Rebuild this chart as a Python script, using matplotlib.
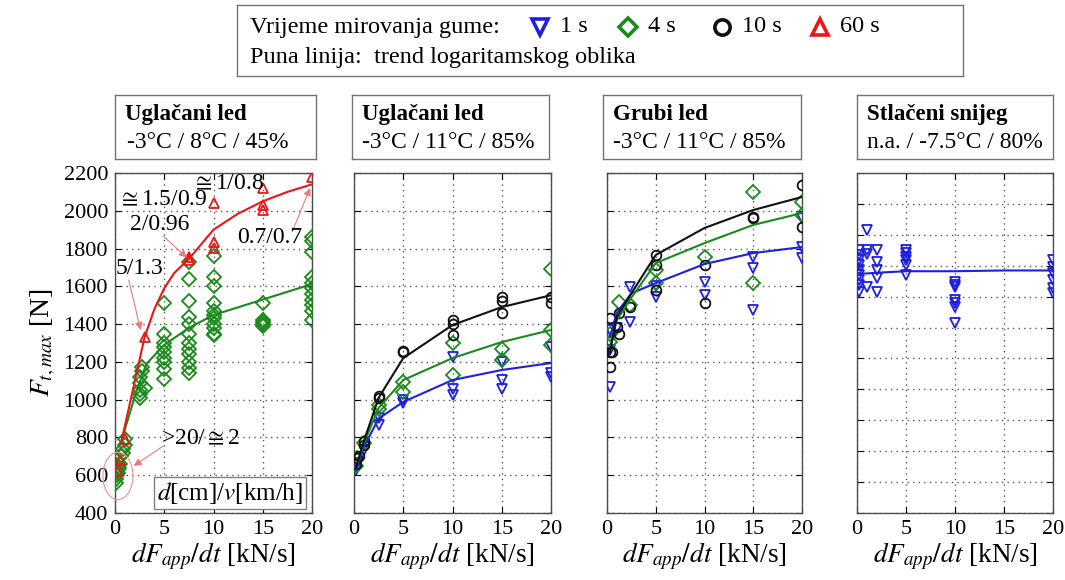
import matplotlib
matplotlib.use("Agg")
import matplotlib.pyplot as plt
from matplotlib.patches import Ellipse

plt.rcParams['font.family'] = ['Liberation Serif', 'DejaVu Serif']
plt.rcParams['mathtext.fontset'] = 'stix'

# ---------------- data ----------------
# Panel 1: Uglačani led -3°C / 8°C / 45%
p1_red_x = [0.3, 0.5, 1, 3, 7.5, 7.5, 10, 10, 10, 15, 15, 15, 20]
p1_red_y = [620, 680, 790, 1330, 1755, 1740, 1835, 1805, 2040, 2120, 2030, 2005, 2180]
p1_grn_x = ([0.1, 0.1, 0.2, 0.2, 0.3, 0.3, 0.4, 0.5, 0.2, 0.3, 0.6, 0.8, 1, 1, 0.8]
            + [2.5, 2.5, 2.5, 2.7, 2.5, 3, 2.5, 2.7]
            + [5] * 9 + [7.5] * 12 + [10] * 11 + [15] * 5 + [20] * 11)
p1_grn_y = ([560, 580, 600, 620, 630, 650, 640, 660, 680, 610, 700, 720, 760, 790, 740]
            + [1030, 1050, 1090, 1175, 1120, 1060, 1010, 1150]
            + [1510, 1350, 1300, 1280, 1250, 1220, 1200, 1160, 1110]
            + [1730, 1640, 1520, 1440, 1400, 1350, 1300, 1270, 1240, 1200, 1170, 1140]
            + [1760, 1650, 1600, 1510, 1470, 1450, 1430, 1400, 1380, 1350, 1340]
            + [1510, 1420, 1410, 1400, 1390]
            + [1860, 1840, 1780, 1650, 1620, 1590, 1560, 1530, 1500, 1470, 1420])
p1_red_trend_x = [0.7, 3, 4, 5, 6, 7.5, 10, 12.5, 15, 17.5, 20]
p1_red_trend_y = [790, 1330, 1480, 1590, 1670, 1745, 1900, 1985, 2050, 2100, 2140]
p1_grn_trend_x = [0.7, 2.2, 3.2, 5, 7.5, 10, 15, 20]
p1_grn_trend_y = [790, 1050, 1190, 1290, 1380, 1448, 1530, 1612]

# Panel 2: Uglačani led -3°C / 11°C / 85%
p2_blk_x = [0.2, 0.3, 0.5, 1, 1, 2.5, 2.5, 5, 5, 10, 10, 10, 15, 15, 15, 20, 20]
p2_blk_y = [660, 690, 700, 760, 780, 1010, 1020, 1260, 1250, 1420, 1400, 1340, 1545, 1520, 1460, 1545, 1510]
p2_grn_x = [0.2, 0.3, 1, 2.5, 2.5, 5, 5, 10, 10, 15, 15, 20, 20, 20]
p2_grn_y = [650, 690, 770, 970, 950, 1095, 1040, 1300, 1130, 1270, 1210, 1690, 1370, 1290]
p2_blu_x = [0.2, 0.3, 1, 2.5, 2.5, 5, 5, 10, 10, 10, 15, 15, 15, 20, 20, 20]
p2_blu_y = [630, 665, 735, 905, 865, 1000, 980, 1225, 1055, 1025, 1200, 1105, 1055, 1280, 1140, 1120]
p2_blk_trend_x = [0.2, 1, 2.5, 5, 10, 15, 20]
p2_blk_trend_y = [640, 780, 1010, 1220, 1395, 1490, 1553]
p2_grn_trend_x = [0.2, 1, 2.5, 5, 10, 15, 20]
p2_grn_trend_y = [640, 770, 956, 1104, 1220, 1305, 1369]
p2_blu_trend_x = [0.2, 1, 2.5, 5, 10, 15, 20]
p2_blu_trend_y = [625, 750, 900, 988, 1104, 1157, 1194]

# Panel 3: Grubi led -3°C / 11°C / 85%
p3_blk_x = [0.3, 0.3, 0.3, 0.5, 1.2, 1, 1.2, 2.4, 5, 5, 5, 10, 10, 15, 15, 20, 20]
p3_blk_y = [1250, 1175, 1430, 1250, 1458, 1385, 1350, 1490, 1766, 1713, 1580, 1713, 1511, 1967, 1960, 2136, 1914]
p3_grn_x = [0.3, 0.3, 1.2, 2.4, 5, 5, 10, 15, 15, 20, 20]
p3_grn_y = [1305, 1350, 1517, 1501, 1686, 1620, 1755, 2099, 1617, 2046, 1978]
p3_blu_x = [0.3, 0.3, 0.3, 1, 2.4, 2.4, 5, 5, 10, 10, 15, 15, 15, 20, 20, 20]
p3_blu_y = [1263, 1067, 1370, 1380, 1596, 1411, 1543, 1600, 1623, 1553, 1755, 1697, 1475, 1808, 1750, 1960]
p3_blk_trend_x = [0.3, 1, 2.5, 5, 10, 15, 20]
p3_blk_trend_y = [1250, 1437, 1563, 1766, 1909, 2004, 2073]
p3_grn_trend_x = [0.3, 1, 2.5, 5, 10, 15, 20]
p3_grn_trend_y = [1280, 1420, 1540, 1723, 1829, 1925, 1988]
p3_blu_trend_x = [0.3, 1, 2.5, 5, 10, 15, 20]
p3_blu_trend_y = [1330, 1460, 1563, 1617, 1718, 1776, 1808]

# Panel 4: Stlačeni snijeg n.a. / -7.5°C / 80%
p4_blu_x = ([0.2] * 9 + [1] * 4 + [2] * 5 + [5] * 6 + [10] * 7 + [20] * 6)
p4_blu_y = ([1792, 1766, 1739, 1713, 1686, 1660, 1633, 1607, 1570]
            + [1898, 1792, 1773, 1597]
            + [1792, 1729, 1686, 1644, 1570]
            + [1792, 1776, 1755, 1739, 1713, 1660]
            + [1623, 1607, 1596, 1527, 1511, 1490, 1406]
            + [1739, 1702, 1671, 1633, 1591, 1565])
p4_blu_trend_x = [0.2, 1, 2, 5, 10, 15, 20]
p4_blu_trend_y = [1668, 1668, 1672, 1680, 1680, 1684, 1684]

titles = ["Uglačani led", "Uglačani led", "Grubi led", "Stlačeni snijeg"]
subtitles = ["-3°C / 8°C / 45%", "-3°C / 11°C / 85%", "-3°C / 11°C / 85%", "n.a. / -7.5°C / 80%"]
yticks_main = [400, 600, 800, 1000, 1200, 1400, 1600, 1800, 2000, 2200]
xticks = [0, 5, 10, 15, 20]

# ---------------- styles ----------------
C_BLUE = '#1f1fe0'
C_GRN = '#1a8a1a'
C_BLK = '#111111'
C_RED = '#e81818'
MS = 7
MEW = 1.3

W, H = 1065, 580
fig = plt.figure(figsize=(W / 100, H / 100), dpi=100)


def fr(x0, y0, x1, y1):
    return [x0 / W, 1 - y1 / H, (x1 - x0) / W, (y1 - y0) / H]


ax_px = [(115, 312), (354, 551), (607, 802), (857, 1053)]
box_px = [(115, 316), (352, 549), (603, 801), (857, 1053)]
axes = []
for i, (x0, x1) in enumerate(ax_px):
    ax = fig.add_axes(fr(x0, 173, x1, 513))
    ax.set_xlim(0, 20)
    ax.set_ylim(400, 2200)
    ax.set_xticks(xticks)
    if i == 3:
        ax.set_yticks([400 + k * 1800 / 11 for k in range(12)])
    else:
        ax.set_yticks(yticks_main)
    if i != 0:
        ax.set_yticklabels([])
    ax.tick_params(direction='in', top=True, right=True, length=4, width=0.8,
                   labelsize=16, pad=5)
    ax.grid(True, linestyle=(0, (1, 3)), color='0.35', lw=1.0)
    for s in ax.spines.values():
        s.set_color('0.3')
        s.set_linewidth(1.0)
    ax.set_xlabel(r'$dF_{app}/dt$ [kN/s]', fontsize=19.5, labelpad=1)
    axes.append(ax)

    bax = fig.add_axes(fr(box_px[i][0], 95, box_px[i][1], 159))
    bax.set_xticks([]); bax.set_yticks([])
    for s in bax.spines.values():
        s.set_color('0.45'); s.set_linewidth(1.0)
    bax.text(0.05, 0.70, titles[i], fontsize=16.5, fontweight='bold',
             va='center', ha='left', transform=bax.transAxes)
    bax.text(0.05 if i else 0.06, 0.25, subtitles[i], fontsize=17,
             va='center', ha='left', transform=bax.transAxes)

axes[0].set_ylabel(r'$F_{t,max}$ [N]', fontsize=20, labelpad=4)


def pts(ax, x, y, m, c):
    ax.plot(x, y, linestyle='none', marker=m, ms=MS, mfc='none', mec=c, mew=MEW, zorder=3)


def trend(ax, x, y, c):
    ax.plot(x, y, color=c, lw=1.5, zorder=4)


a1, a2, a3, a4 = axes
pts(a1, p1_grn_x, p1_grn_y, 'D', C_GRN)
pts(a1, p1_red_x, p1_red_y, '^', C_RED)
trend(a1, p1_grn_trend_x, p1_grn_trend_y, C_GRN)
trend(a1, p1_red_trend_x, p1_red_trend_y, C_RED)

pts(a2, p2_blu_x, p2_blu_y, 'v', C_BLUE)
pts(a2, p2_grn_x, p2_grn_y, 'D', C_GRN)
pts(a2, p2_blk_x, p2_blk_y, 'o', C_BLK)
trend(a2, p2_blu_trend_x, p2_blu_trend_y, C_BLUE)
trend(a2, p2_grn_trend_x, p2_grn_trend_y, C_GRN)
trend(a2, p2_blk_trend_x, p2_blk_trend_y, C_BLK)

pts(a3, p3_blu_x, p3_blu_y, 'v', C_BLUE)
pts(a3, p3_grn_x, p3_grn_y, 'D', C_GRN)
pts(a3, p3_blk_x, p3_blk_y, 'o', C_BLK)
trend(a3, p3_blu_trend_x, p3_blu_trend_y, C_BLUE)
trend(a3, p3_grn_trend_x, p3_grn_trend_y, C_GRN)
trend(a3, p3_blk_trend_x, p3_blk_trend_y, C_BLK)

pts(a4, p4_blu_x, p4_blu_y, 'v', C_BLUE)
trend(a4, p4_blu_trend_x, p4_blu_trend_y, C_BLUE)

# ---------------- annotations in panel 1 ----------------
arr = dict(arrowstyle='-|>', color='#f07878', lw=0.8, mutation_scale=11, shrinkA=0, shrinkB=0)
tfs = 17
a1.text(11.5, 2142, r'$\cong$1/0.8', fontsize=tfs, ha='center', va='center', zorder=6)
a1.text(4.9, 2057, r'$\cong$1.5/0.9', fontsize=tfs, ha='center', va='center', zorder=6)
a1.text(4.5, 1930, '2/0.96', fontsize=tfs, ha='center', va='center', zorder=6)
a1.annotate('', xy=(7.3, 1752), xytext=(4.9, 1866), arrowprops=arr)
a1.text(15.7, 1856, '0.7/0.7', fontsize=tfs, ha='center', va='center', zorder=6)
a1.annotate('', xy=(19.8, 2120), xytext=(18.1, 1903), arrowprops=arr)
a1.text(2.5, 1697, '5/1.3', fontsize=tfs, ha='center', va='center', zorder=6)
a1.annotate('', xy=(2.6, 1369), xytext=(1.4, 1633), arrowprops=arr)
a1.text(8.7, 792, r'>20/$\cong$2', fontsize=tfs, ha='center', va='center', zorder=6)
a1.annotate('', xy=(1.9, 649), xytext=(4.9, 755), arrowprops=arr)
a1.add_patch(Ellipse((0.3, 596), 3.05, 250, fill=False, ec='#f09090', lw=0.8, zorder=5,
                     clip_on=False))
a1.text(11.7, 506, r'$d$[cm]/$v$[km/h]', fontsize=18, ha='center', va='center', zorder=6,
        bbox=dict(boxstyle='square,pad=0.12', fc='white', ec='0.5', lw=1.0))

# ---------------- legend box ----------------
lax = fig.add_axes(fr(237, 5, 963, 76))
lax.set_xlim(237, 963)
lax.set_ylim(76, 5)
lax.set_xticks([]); lax.set_yticks([])
for s in lax.spines.values():
    s.set_color('0.45'); s.set_linewidth(1.0)
lfs = 17.5
lax.text(250, 27, 'Vrijeme mirovanja gume:', fontsize=lfs, va='center', ha='left')
leg_items = [('v', C_BLUE, '1 s', 540), ('D', C_GRN, '4 s', 628),
             ('o', C_BLK, '10 s', 722), ('^', C_RED, '60 s', 820)]
for m, c, lab, xp in leg_items:
    lax.plot([xp], [27], marker=m, ms=11 if m != 'D' else 9, mfc='none', mec=c, mew=2.6,
             linestyle='none')
    lax.text(xp + 20, 27, lab, fontsize=lfs, va='center', ha='left')
lax.text(250, 57, 'Puna linija:  trend logaritamskog oblika', fontsize=lfs, va='center', ha='left')

fig.savefig('out.png', dpi=100)
